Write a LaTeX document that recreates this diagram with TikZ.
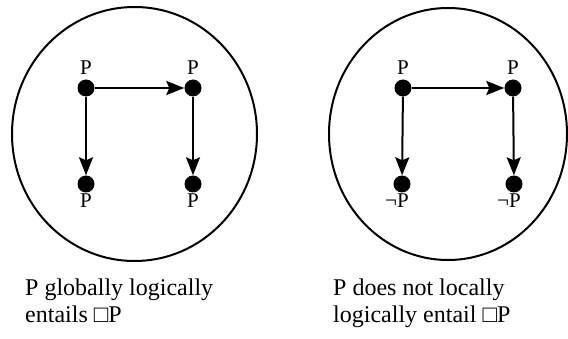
\documentclass[tikz,border=0pt]{standalone}
\usepackage{fontspec}
\setmainfont{Liberation Serif}
\usetikzlibrary{arrows.meta}
\begin{document}
\begin{tikzpicture}[x=1pt,y=-1pt,
  world/.style={circle,fill=black,inner sep=0pt,minimum size=17pt},
  rel/.style={line width=2pt,-{Stealth[length=18pt,width=14pt,inset=3pt]}},
  frame/.style={line width=2pt},
  plab/.style={font=\fontsize{21}{23}\selectfont,inner sep=0pt},
  captext/.style={font=\fontsize{24}{28}\selectfont,inner sep=0pt,anchor=base west}]
\useasboundingbox (0,0) rectangle (568,339);
% left model
\draw[frame] (134.5,134) ellipse [x radius=122.5pt, y radius=127pt];
\node[world] (a1) at (86,88) {};
\node[world] (a2) at (193,88) {};
\node[world] (a3) at (86,184) {};
\node[world] (a4) at (193,184) {};
\draw[rel] (a1) -- (a2);
\draw[rel] (a1) -- (a3);
\draw[rel] (a2) -- (a4);
\node[plab] (pa1) at (86,68) {P};
\node[plab] (pa2) at (193,68) {P};
\node[plab] (pa3) at (86,201) {P};
\node[plab] (pa4) at (193,201) {P};
% right model
\draw[frame] (448,134) ellipse [x radius=119pt, y radius=126pt];
\node[world] (b1) at (403,88) {};
\node[world] (b2) at (513,88) {};
\node[world] (b3) at (402,184) {};
\node[world] (b4) at (514,184) {};
\draw[rel] (b1) -- (b2);
\draw[rel] (b1) -- (b3);
\draw[rel] (b2) -- (b4);
\node[plab] (pb1) at (403,68) {P};
\node[plab] (pb2) at (513,68) {P};
\node[plab] (pb3) at (397,201) {¬P};
\node[plab] (pb4) at (509,201) {¬P};
% captions
\node[captext] (c1) at (25,295) {P globally logically};
\node[captext] (c2) at (25,323) {entails □P};
\node[captext] (c3) at (333,295) {P does not locally};
\node[captext] (c4) at (333,323) {logically entail □P};
\end{tikzpicture}
\end{document}
